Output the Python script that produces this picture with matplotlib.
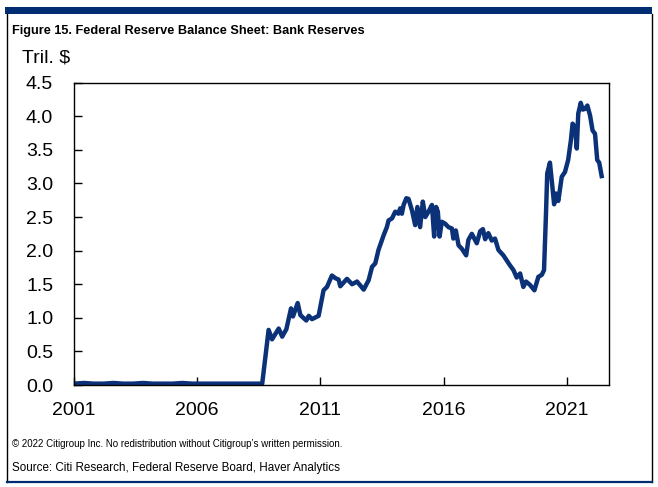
import matplotlib
matplotlib.use('Agg')
import matplotlib.pyplot as plt
from matplotlib.lines import Line2D
from matplotlib.patches import Rectangle
from matplotlib import font_manager

# Bank reserves, trillions of dollars
years = [
    2001.0, 2001.4, 2001.8, 2002.2, 2002.6, 2003.0, 2003.4, 2003.8, 2004.2,
    2004.6, 2005.0, 2005.4, 2005.8, 2006.2, 2006.6, 2007.0, 2007.4, 2007.8,
    2008.2, 2008.64,
    2008.90, 2009.04, 2009.31, 2009.45, 2009.62, 2009.81, 2009.89, 2010.08,
    2010.19, 2010.43, 2010.53, 2010.66, 2010.93, 2011.13, 2011.27, 2011.47,
    2011.61, 2011.74, 2011.81, 2012.08, 2012.29, 2012.49, 2012.76, 2012.96,
    2013.10, 2013.23, 2013.36, 2013.57, 2013.70, 2013.77, 2013.91, 2014.04,
    2014.17, 2014.24, 2014.31, 2014.38, 2014.49, 2014.58, 2014.72, 2014.85,
    2014.94, 2015.05, 2015.16, 2015.26, 2015.39, 2015.53, 2015.62, 2015.70,
    2015.77, 2015.84, 2015.93, 2016.07, 2016.20, 2016.34, 2016.40, 2016.50,
    2016.61, 2016.74, 2016.92, 2017.01, 2017.15, 2017.35, 2017.49, 2017.60,
    2017.69, 2017.82, 2017.96, 2018.09, 2018.23, 2018.43, 2018.70, 2018.84,
    2018.97, 2019.11, 2019.24, 2019.35, 2019.51, 2019.69, 2019.85, 2019.99,
    2020.08, 2020.16, 2020.21, 2020.32, 2020.42, 2020.49, 2020.57, 2020.66,
    2020.80, 2020.93, 2021.06, 2021.17, 2021.24, 2021.34, 2021.41, 2021.47,
    2021.57, 2021.65, 2021.74, 2021.84, 2021.95, 2022.05, 2022.15, 2022.24,
    2022.32, 2022.42,
]
reserves = [
    0.02, 0.03, 0.02, 0.02, 0.03, 0.02, 0.02, 0.03, 0.02,
    0.02, 0.02, 0.03, 0.02, 0.02, 0.02, 0.02, 0.02, 0.02,
    0.02, 0.02,
    0.82, 0.68, 0.84, 0.72, 0.83, 1.14, 1.02, 1.22,
    1.04, 0.96, 1.03, 0.98, 1.03, 1.41, 1.46, 1.63,
    1.59, 1.57, 1.47, 1.58, 1.50, 1.54, 1.42, 1.56,
    1.76, 1.81, 2.01, 2.23, 2.35, 2.45, 2.48, 2.58,
    2.55, 2.63, 2.55, 2.68, 2.78, 2.77, 2.60, 2.38,
    2.65, 2.35, 2.73, 2.50, 2.58, 2.68, 2.21, 2.65,
    2.58, 2.21, 2.43, 2.40, 2.35, 2.33, 2.18, 2.30,
    2.08, 2.03, 1.93, 2.16, 2.25, 2.11, 2.29, 2.32,
    2.17, 2.26, 2.15, 2.18, 2.01, 1.93, 1.78, 1.71,
    1.60, 1.66, 1.46, 1.54, 1.49, 1.41, 1.61, 1.64,
    1.71, 2.55, 3.15, 3.31, 2.95, 2.69, 2.85, 2.74,
    3.10, 3.17, 3.35, 3.64, 3.89, 3.84, 3.52, 4.04,
    4.20, 4.10, 4.11, 4.16, 4.01, 3.79, 3.74, 3.35,
    3.31, 3.11,
]
xticks = [2001, 2006, 2011, 2016, 2021]
yticks = [0.0, 0.5, 1.0, 1.5, 2.0, 2.5, 3.0, 3.5, 4.0, 4.5]

navy = '#0b3278'
frame_navy = '#002d72'

names = {f.name for f in font_manager.fontManager.ttflist}
narrow = 'Liberation Sans Narrow' if 'Liberation Sans Narrow' in names else 'Liberation Sans'
plt.rcParams['font.family'] = [narrow, 'DejaVu Sans']

W, H = 658, 487
fig = plt.figure(figsize=(W / 100, H / 100), dpi=100)

# outer frame: navy bar on top, thin sides, navy rule at bottom
fig.add_artist(Rectangle((5 / W, 1 - 14 / H), 647 / W, 7 / H, transform=fig.transFigure,
                         facecolor=frame_navy, edgecolor='none'))
fig.add_artist(Line2D([7 / W, 7 / W], [1 - 14 / H, 1 - 482 / H], transform=fig.transFigure,
                      color='black', lw=1))
fig.add_artist(Line2D([651.5 / W, 651.5 / W], [1 - 14 / H, 1 - 482 / H], transform=fig.transFigure,
                      color='black', lw=1))
fig.add_artist(Line2D([7 / W, 652 / W], [1 - 481.5 / H, 1 - 481.5 / H], transform=fig.transFigure,
                      color=frame_navy, lw=1.6))

ax = fig.add_axes([74 / W, 1 - 385 / H, (609.3 - 74) / W, (385 - 82.7) / H])
ax.plot(years, reserves, color=navy, lw=3.2, solid_joinstyle='round')
ax.set_xlim(2001, 2022.73)
ax.set_ylim(0, 4.5)
ax.set_xticks(xticks)
ax.set_xticklabels([str(t) for t in xticks])
ax.set_yticks(yticks)
ax.set_yticklabels([f'{t:.1f}' for t in yticks])
ax.tick_params(direction='in', length=6, width=1, labelsize=14, color='black')
ax.tick_params(axis='y', pad=15)
ax.tick_params(axis='x', pad=12)
for s in ax.spines.values():
    s.set_linewidth(1)

fig.text(12 / W, 1 - 31 / H, 'Figure 15. Federal Reserve Balance Sheet: Bank Reserves',
         fontsize=9.2, fontweight='bold', va='center', ha='left')
fig.text(22 / W, 1 - 58 / H, 'Tril. $', fontsize=14, va='center', ha='left')
fig.text(12 / W, 1 - 444 / H,
         '\u00a9 2022 Citigroup Inc. No redistribution without Citigroup\u2019s written permission.',
         fontsize=7, va='center', ha='left')
fig.text(12 / W, 1 - 468 / H, 'Source: Citi Research, Federal Reserve Board, Haver Analytics',
         fontsize=8.4, va='center', ha='left')

fig.savefig('out.png', dpi=100)
